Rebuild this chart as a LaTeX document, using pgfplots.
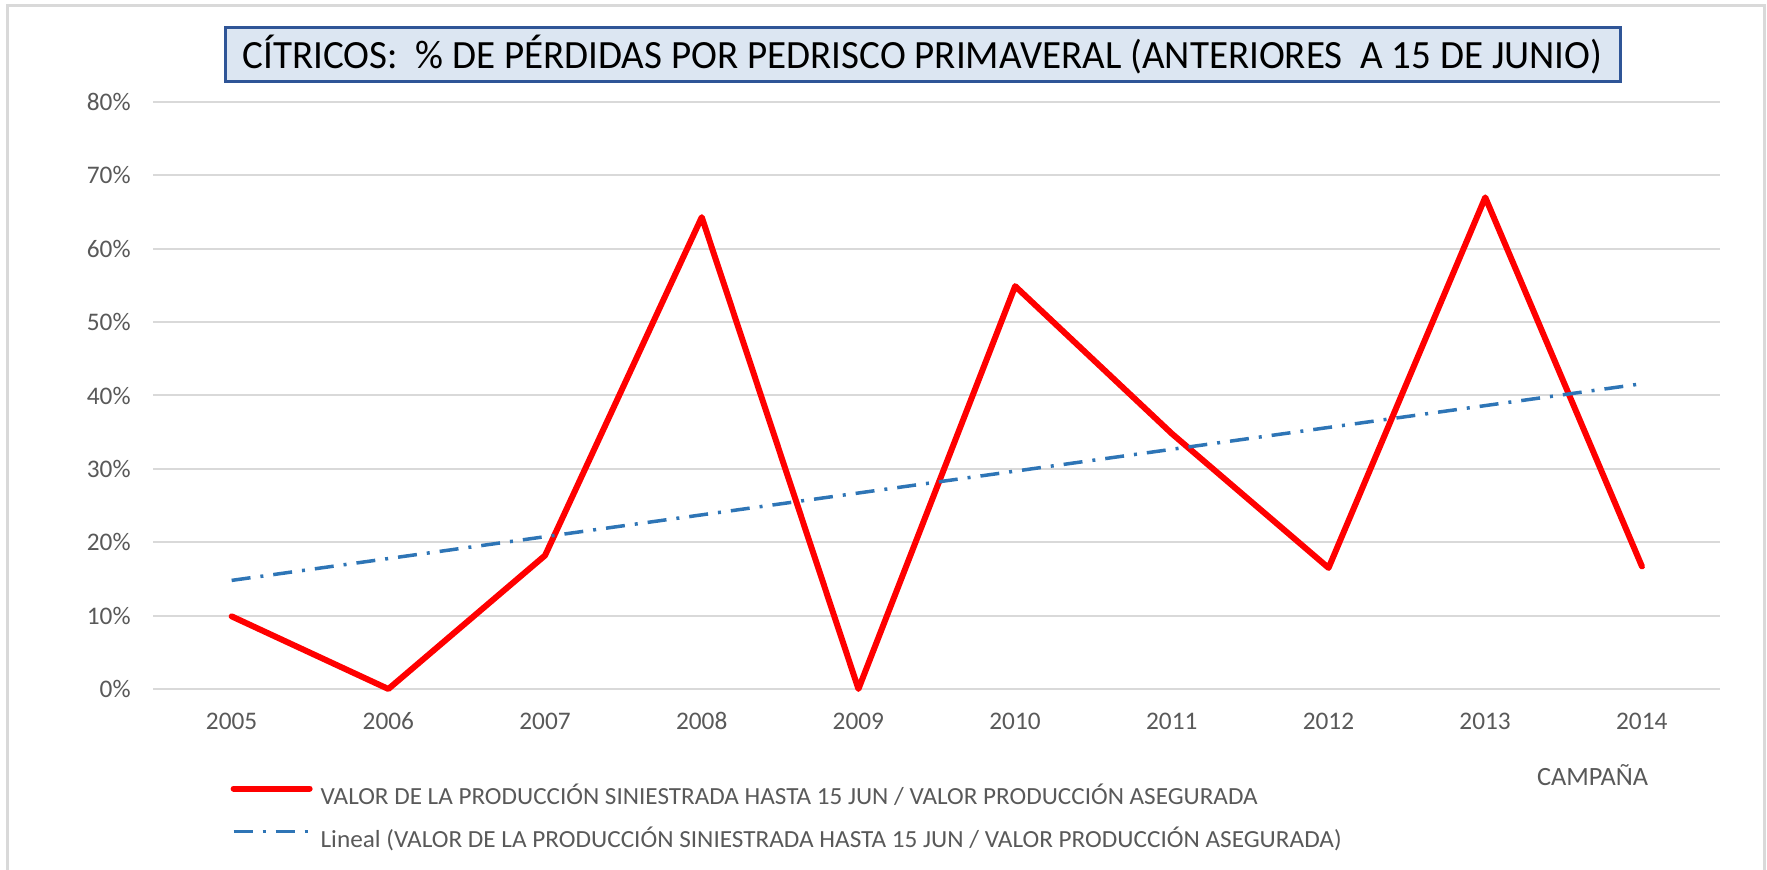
\documentclass[border=0pt]{standalone}
\usepackage{fontspec}
\setmainfont{Carlito}
\usepackage{graphicx}
\usepackage{pgfplots}
\pgfplotsset{compat=1.18}
\definecolor{gridgray}{HTML}{D9D9D9}
\definecolor{txtgray}{HTML}{595959}
\definecolor{trendblue}{HTML}{2E75B6}
\definecolor{titlefill}{HTML}{DCE6F2}
\definecolor{titledraw}{HTML}{2F5597}
\begin{document}
\begin{tikzpicture}
\begin{axis}[
    scale only axis, width=15.67cm, height=5.87cm,
    xmin=2004.5, xmax=2014.5, ymin=0, ymax=80,
    xtick={2005,...,2014}, ytick={0,10,...,80},
    ymajorgrids, major grid style={gridgray, line width=0.02cm},
    axis line style={draw=none}, major tick length=0pt,
    /pgf/number format/1000 sep={},
    /pgf/number format/assume math mode=true,
    ticklabel style={font=\fontsize{7.2pt}{8pt}\selectfont, text=txtgray, inner sep=0pt},
    yticklabel={\pgfmathprintnumber{\tick}\%},
    yticklabel style={anchor=east, xshift=-0.22cm},
    xticklabel style={anchor=center, yshift=-0.32cm},
    xlabel={CAMPAÑA},
    xlabel style={at={(axis description cs:0.9185,-0.1465)}, anchor=center,
      font=\fontsize{7.5pt}{8pt}\selectfont, text=txtgray, inner sep=0pt},
    clip=false,
    legend cell align=left,
    legend style={draw=none, fill=none, at={(axis description cs:0.0489,-0.2198)},
      anchor=west, inner sep=0pt, row sep=0.18cm,
      font=\fontsize{7pt}{8pt}\selectfont, text=txtgray,
      nodes={inner sep=0pt, text height=0.2cm, text depth=0.05cm},
      /tikz/every odd column/.style={column sep=0.08cm}},
    legend image code/.code={\draw[#1] (0cm,0.08cm) -- (0.76cm,0.08cm);},
]
\addplot[red, line width=0.06cm, line cap=round, line join=round] coordinates {
  (2005,9.9) (2006,0) (2007,18.2) (2008,64.3) (2009,0)
  (2010,54.9) (2011,34.8) (2012,16.5) (2013,67.0) (2014,16.7)};
\addlegendentry{\resizebox{9.37cm}{\height}{VALOR DE LA PRODUCCIÓN SINIESTRADA HASTA 15 JUN / VALOR PRODUCCIÓN ASEGURADA}}
\addplot[trendblue, line width=0.035cm, dash pattern=on 0.19cm off 0.1cm on 0.03cm off 0.1cm] coordinates {
  (2005,14.8) (2014,41.6)};
\addlegendentry{\resizebox{10.21cm}{\height}{Lineal (VALOR DE LA PRODUCCIÓN SINIESTRADA HASTA 15 JUN / VALOR PRODUCCIÓN ASEGURADA)}}
\end{axis}
% title box
\node[draw=titledraw, line width=0.03cm, fill=titlefill, minimum width=13.95cm,
  minimum height=0.54cm, inner sep=0pt] at (7.692,6.34)
  {\fontsize{11.4pt}{12pt}\selectfont\resizebox{13.6cm}{\height}{CÍTRICOS:\ \ \% DE PÉRDIDAS POR PEDRISCO PRIMAVERAL (ANTERIORES\ \ A 15 DE JUNIO)}};
% chart area border
\draw[gridgray, line width=0.03cm] (-1.453,-1.81) -- (-1.453,6.83) -- (16.107,6.83) -- (16.107,-1.81);
\pgfresetboundingbox
\path (-1.533,-1.81) rectangle (16.137,6.89);
\end{tikzpicture}
\end{document}
